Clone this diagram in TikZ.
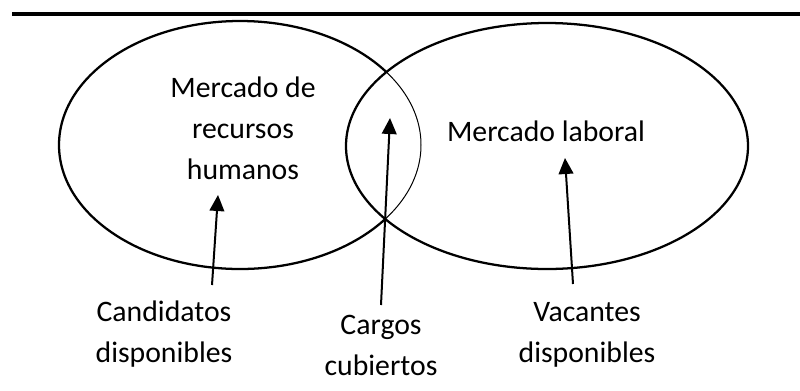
\documentclass[tikz,border=0pt]{standalone}
\usepackage{fontspec}
\setmainfont{Carlito}
\usetikzlibrary{arrows.meta}
\begin{document}
\begin{tikzpicture}[x=0.75pt,y=-0.75pt,
  lbl/.style={font=\fontsize{22.3}{30.4}\selectfont, align=center, inner sep=0pt, anchor=base},
  rule/.style={line width=3pt},
  thickline/.style={line width=1.7pt},
  thinline/.style={line width=0.75pt},
  arr/.style={line width=1.5pt, -{Triangle[width=11pt,length=12pt]}},
  lell/.style={x radius=181, y radius=124},
  rell/.style={x radius=201, y radius=123}]
\useasboundingbox (0,0) rectangle (800,390);
% top rule
\coordinate (ruleL) at (12,14);
\coordinate (ruleR) at (800,14);
\draw[rule] (ruleL) -- (ruleR);
% ellipses
\coordinate (L) at (240,145);
\coordinate (R) at (547,146);
\draw[thickline] (L) ellipse [lell];
\fill[white] (R) ellipse [rell];
\begin{scope}
  \clip (R) ellipse [rell];
  \draw[thinline] (L) ellipse [lell];
\end{scope}
\draw[thickline] (R) ellipse [rell];
% texts (anchor = baseline of last line)
\node[lbl] (mrh) at (243,179) {Mercado de\\recursos\\humanos};
\node[lbl] (ml) at (546,141) {Mercado laboral};
\node[lbl] (cd) at (164,362) {Candidatos\\disponibles};
\node[lbl] (cc) at (381,375) {Cargos\\cubiertos};
\node[lbl] (vd) at (587,362) {Vacantes\\disponibles};
% arrows
\coordinate (cdtail) at (212,285);
\coordinate (cdtip) at (218,195);
\coordinate (cctail) at (381,305);
\coordinate (cctip) at (390,118);
\coordinate (vdtail) at (573,284);
\coordinate (vdtip) at (565,158);
\draw[arr] (cdtail) -- (cdtip);
\draw[arr] (cctail) -- (cctip);
\draw[arr] (vdtail) -- (vdtip);
\end{tikzpicture}
\end{document}
